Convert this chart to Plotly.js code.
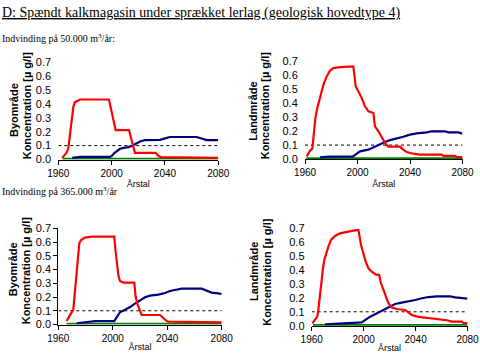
<!DOCTYPE html>
<html>
<head>
<meta charset="utf-8">
<script src="https://cdn.plot.ly/plotly-3.0.1.min.js"></script>
<style>html,body{margin:0;padding:0;background:#fff;}#chart{width:480px;height:356px;}</style>
</head>
<body>
<div id="chart"></div>
<script>
// ---- Data ----
const tickYears = [1960, 2000, 2040, 2080];
const thresholdYears = [1960, 2080];
const thresholdValue = 0.1;

// Panel 1: Byområde, 50.000 m3/år
const p1RedYears = [1963, 1966.3, 1967.5, 1968.5, 1969.3, 1970.5, 1971.3, 1972.5, 1974.5, 1976.3, 1998, 1999.5, 2001.3, 2003, 2013, 2014.5, 2016.3, 2017.5, 2033, 2035, 2037, 2065, 2066, 2080];
const p1RedVals = [0.012, 0.051, 0.080, 0.152, 0.249, 0.333, 0.381, 0.413, 0.425, 0.432, 0.432, 0.369, 0.285, 0.212, 0.212, 0.152, 0.092, 0.048, 0.048, 0.027, 0.017, 0.017, 0.012, 0.012];
const p1BlueYears = [1970.5, 1976.3, 1998.8, 2000.3, 2002, 2003.8, 2006.3, 2008.8, 2012.5, 2015.5, 2018, 2021.3, 2025, 2036.3, 2040, 2043.8, 2063.8, 2067.5, 2071.3, 2080];
const p1BlueVals = [0.012, 0.019, 0.019, 0.027, 0.046, 0.060, 0.077, 0.084, 0.089, 0.099, 0.113, 0.130, 0.140, 0.142, 0.152, 0.162, 0.162, 0.152, 0.140, 0.140];
const p1GreenYears = [1963, 2080];
const p1GreenVals = [0.005, 0.005];

// Panel 2: Landmråde, 50.000 m3/år
const p2RedYears = [1961.3, 1962.5, 1963.8, 1965.6, 1966.3, 1967.1, 1967.9, 1969.4, 1970.9, 1972.7, 1974.5, 1976.5, 1979, 1981.6, 1986.7, 1996.8, 1997.6, 1998.6, 2000.6, 2003.2, 2005.7, 2008.3, 2012.1, 2013.3, 2015.9, 2018.4, 2021, 2023.5, 2032.4, 2034.9, 2037.5, 2042.5, 2047.6, 2064.1, 2065.4, 2074.3, 2075.6, 2080];
const p2RedVals = [0.019, 0.043, 0.060, 0.074, 0.139, 0.223, 0.294, 0.366, 0.426, 0.486, 0.546, 0.593, 0.634, 0.653, 0.660, 0.665, 0.605, 0.522, 0.486, 0.438, 0.378, 0.342, 0.330, 0.235, 0.199, 0.156, 0.115, 0.089, 0.089, 0.067, 0.050, 0.038, 0.031, 0.031, 0.022, 0.022, 0.014, 0.014];
const p2BlueYears = [1971.4, 1977.8, 1996.3, 1999.9, 2001.9, 2008.3, 2010.8, 2014.1, 2017.1, 2021, 2024.8, 2029.8, 2034.9, 2040, 2045.1, 2052.7, 2056.5, 2066.7, 2069.2, 2076.8, 2079.9];
const p2BlueVals = [0.012, 0.017, 0.017, 0.043, 0.055, 0.067, 0.079, 0.091, 0.108, 0.122, 0.136, 0.146, 0.160, 0.175, 0.184, 0.191, 0.199, 0.199, 0.191, 0.191, 0.182];
const p2GreenYears = [1961, 2080];
const p2GreenVals = [0.006, 0.006];

// Panel 3: Byområde, 365.000 m3/år
const p3RedYears = [1966.1, 1967.4, 1969.3, 1971, 1971.8, 1972.8, 1973.7, 1974.7, 1975.4, 1976.7, 1979.6, 1984.5, 2001.1, 2002.1, 2003.1, 2004.1, 2005.3, 2007.8, 2015.8, 2016.8, 2018.3, 2020, 2021.2, 2034.7, 2037.1, 2039.6, 2040.8, 2065.3, 2066, 2080];
const p3RedVals = [0.025, 0.050, 0.081, 0.106, 0.203, 0.312, 0.433, 0.506, 0.591, 0.615, 0.632, 0.639, 0.639, 0.530, 0.433, 0.360, 0.317, 0.304, 0.304, 0.203, 0.142, 0.089, 0.069, 0.069, 0.045, 0.025, 0.021, 0.021, 0.016, 0.016];
const p3BlueYears = [1973.5, 1979.6, 1987, 2001.1, 2002.9, 2005.3, 2009, 2012.7, 2016.3, 2020, 2023.7, 2027.3, 2033.5, 2038.4, 2042, 2045.7, 2050.6, 2065.3, 2069, 2072.6, 2077.5, 2080];
const p3BlueVals = [0.009, 0.018, 0.025, 0.025, 0.057, 0.089, 0.108, 0.127, 0.152, 0.178, 0.198, 0.210, 0.217, 0.229, 0.244, 0.251, 0.261, 0.261, 0.244, 0.232, 0.227, 0.222];
const p3GreenYears = [1966, 2080];
const p3GreenVals = [0.005, 0.005];

// Panel 4: Landmråde, 365.000 m3/år
const p4RedYears = [1960.5, 1962.5, 1964.3, 1965.1, 1965.9, 1966.7, 1967.7, 1968.7, 1969.7, 1971, 1972.8, 1974.9, 1978, 1981.8, 1987, 1992.1, 1996, 1996.7, 1998, 1999.8, 2001.6, 2003.7, 2006.2, 2009.3, 2011.9, 2013.4, 2015.2, 2017, 2019.1, 2021.7, 2025.5, 2032, 2034.5, 2037.1, 2042.2, 2050, 2057.7, 2064.1, 2068, 2075.7, 2076.9, 2080];
const p4RedVals = [0.017, 0.041, 0.065, 0.113, 0.185, 0.257, 0.341, 0.412, 0.472, 0.520, 0.568, 0.616, 0.645, 0.664, 0.676, 0.683, 0.688, 0.640, 0.580, 0.520, 0.460, 0.412, 0.388, 0.369, 0.364, 0.305, 0.257, 0.209, 0.161, 0.130, 0.120, 0.113, 0.096, 0.077, 0.063, 0.053, 0.048, 0.039, 0.029, 0.029, 0.019, 0.019];
const p4BlueYears = [1970.3, 1976.7, 1988.2, 1998.5, 2001.1, 2005, 2008.8, 2012.7, 2016.5, 2020.4, 2024.2, 2029.4, 2034.5, 2039.7, 2044.8, 2050, 2056.4, 2066.7, 2070.5, 2075.7, 2080];
const p4BlueVals = [0.010, 0.015, 0.019, 0.024, 0.041, 0.065, 0.082, 0.101, 0.120, 0.142, 0.156, 0.166, 0.173, 0.185, 0.197, 0.206, 0.211, 0.211, 0.204, 0.197, 0.194];
const p4GreenYears = [1961, 2080];
const p4GreenVals = [0.005, 0.005];

// Text labels
const areaLabels = ['Byområde', 'Landmråde', 'Byområde', 'Landmråde'];
const concLabel = 'Koncentration [µ g/l]';
const xLabel = 'Årstal';

// ---- Chart ----
const RED = '#ff0000', BLUE = '#000080', GREEN = '#008000';
const SANS = "Arial, 'Liberation Sans', sans-serif";
const SERIF = "'Liberation Serif', 'Times New Roman', 'DejaVu Serif', serif";
const panels = [
  {red:[p1RedYears,p1RedVals], blue:[p1BlueYears,p1BlueVals], green:[p1GreenYears,p1GreenVals]},
  {red:[p2RedYears,p2RedVals], blue:[p2BlueYears,p2BlueVals], green:[p2GreenYears,p2GreenVals]},
  {red:[p3RedYears,p3RedVals], blue:[p3BlueYears,p3BlueVals], green:[p3GreenYears,p3GreenVals]},
  {red:[p4RedYears,p4RedVals], blue:[p4BlueYears,p4BlueVals], green:[p4GreenYears,p4GreenVals]}
];
const W = 480, H = 356;
// plot boxes in px: [left, right, top(0.7), bottom(0.0)]
const boxes = [
  [58.3, 218.3, 62.3, 159.5],
  [305, 462.5, 61.5, 159],
  [58.3, 221.7, 228.3, 324.5],
  [311.7, 467.5, 228.3, 325.7]
];
// y-title positions in px: [line1 x, line1 y, line2 x, line2 y]
const yTitlePos = [
  [14, 110, 27.3, 105],
  [252.7, 111, 265.3, 105],
  [13.3, 269, 26.3, 270],
  [253.3, 271.7, 266.3, 271.5]
];
const xTitleStandoff = [3, 3, 0.5, 0.5];

const traces = [];
const layout = {
  width: W, height: H,
  margin: {l:0, r:0, t:0, b:0, pad:0},
  paper_bgcolor: '#fff', plot_bgcolor: 'rgba(0,0,0,0)',
  showlegend: false,
  font: {family: SANS, color: '#000'},
  annotations: []
};
panels.forEach((p, i) => {
  const n = i + 1;
  const xa = 'x' + (n === 1 ? '' : n), ya = 'y' + (n === 1 ? '' : n);
  traces.push({x: thresholdYears, y: thresholdYears.map(() => thresholdValue), xaxis: xa, yaxis: ya, mode: 'lines', line: {color: '#000', width: 1, dash: '3px,3px'}, hoverinfo: 'skip'});
  traces.push({x: p.green[0], y: p.green[1], xaxis: xa, yaxis: ya, mode: 'lines', line: {color: GREEN, width: 2}});
  traces.push({x: p.blue[0], y: p.blue[1], xaxis: xa, yaxis: ya, mode: 'lines', line: {color: BLUE, width: 2.2}});
  traces.push({x: p.red[0], y: p.red[1], xaxis: xa, yaxis: ya, mode: 'lines', line: {color: RED, width: 2.2}});
  const b = boxes[i];
  layout['xaxis' + (n === 1 ? '' : n)] = {
    domain: [b[0] / W, b[1] / W], anchor: ya, range: [1960, 2080],
    tickvals: tickYears, ticktext: tickYears.map(String),
    showline: true, linecolor: '#000', linewidth: 1, mirror: false,
    ticks: 'outside', ticklen: 4, tickcolor: '#000', tickwidth: 1,
    tickfont: {size: 10, family: SANS, color: '#000'},
    showgrid: false, zeroline: false, fixedrange: true, automargin: false,
    title: {text: xLabel, standoff: xTitleStandoff[i], font: {size: 9, family: SANS, color: '#000'}}
  };
  layout['yaxis' + (n === 1 ? '' : n)] = {
    domain: [1 - b[3] / H, 1 - b[2] / H], anchor: xa, range: [0, 0.7],
    dtick: 0.1, tick0: 0, tickformat: '.1f',
    showline: n === 3, linecolor: '#000', linewidth: 1,
    ticks: 'outside', ticklen: 4, tickcolor: n === 3 ? '#000' : 'rgba(0,0,0,0)', tickwidth: 1,
    tickfont: {size: 11, family: SANS, color: '#000'},
    showgrid: false, zeroline: false, fixedrange: true, automargin: false
  };
  const yt = yTitlePos[i];
  layout.annotations.push({
    text: areaLabels[i], xref: 'paper', yref: 'paper', x: yt[0] / W, y: 1 - yt[1] / H,
    xanchor: 'center', yanchor: 'middle', textangle: -90, showarrow: false,
    font: {size: 11, family: SANS, color: '#000', weight: 'bold'}
  });
  layout.annotations.push({
    text: concLabel, xref: 'paper', yref: 'paper', x: yt[2] / W, y: 1 - yt[3] / H,
    xanchor: 'center', yanchor: 'middle', textangle: -90, showarrow: false,
    font: {size: 11, family: SANS, color: '#000', weight: 'bold'}
  });
});

layout.annotations.push({
  text: '<u>D: Spændt kalkmagasin under sprækket lerlag (geologisk hovedtype 4)</u>',
  xref: 'paper', yref: 'paper', x: 0, y: 1 - 12.5 / H, xanchor: 'left', yanchor: 'middle', showarrow: false,
  font: {size: 14, family: SERIF, color: '#000'}
});
layout.annotations.push({
  text: 'Indvinding på 50.000 m<sup>3</sup>/år:',
  xref: 'paper', yref: 'paper', x: 0, y: 1 - 38 / H, xanchor: 'left', yanchor: 'middle', showarrow: false,
  font: {size: 10, family: SERIF, color: '#000'}
});
layout.annotations.push({
  text: 'Indvinding på 365.000 m<sup>3</sup>/år',
  xref: 'paper', yref: 'paper', x: 0, y: 1 - 191 / H, xanchor: 'left', yanchor: 'middle', showarrow: false,
  font: {size: 10, family: SERIF, color: '#000'}
});

Plotly.newPlot('chart', traces, layout, {staticPlot: true, displayModeBar: false});
</script>
</body>
</html>
